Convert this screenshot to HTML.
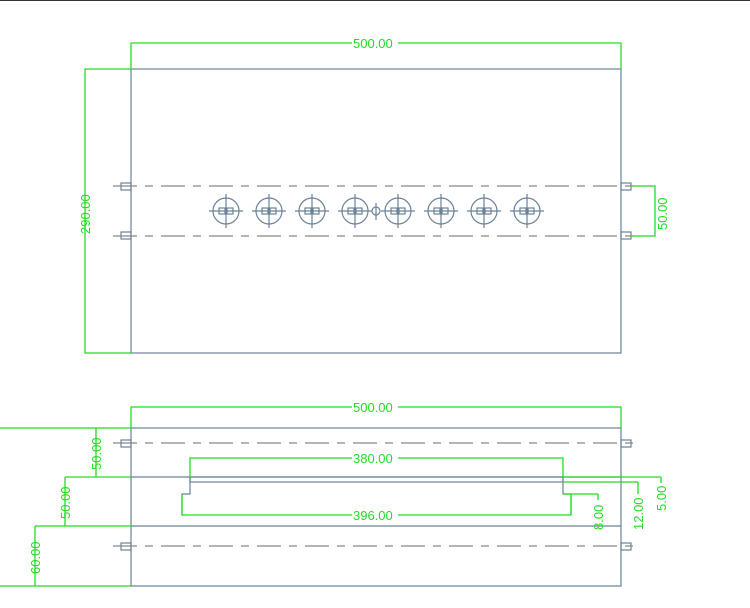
<!DOCTYPE html>
<html><head><style>body{margin:0;background:#fff}svg{display:block}text{font-family:"Liberation Sans",sans-serif;font-size:13px;fill:#22dd22}</style></head><body>
<svg width="750" height="608" viewBox="0 0 750 608" xmlns="http://www.w3.org/2000/svg">
<defs>
<g id="h"><circle cx="0" cy="211" r="13"/><line x1="-17" y1="211" x2="17" y2="211"/><line x1="0" y1="194" x2="0" y2="228"/><rect x="-7" y="208" width="6" height="6"/><rect x="1" y="208" width="6" height="6"/></g>
</defs>
<line x1="0" y1="0.5" x2="750" y2="0.5" stroke="#333" stroke-width="1"/>
<g fill="none" stroke="#6a8299" stroke-width="1.2">
<rect x="131" y="69" width="490" height="284"/>
<rect x="121" y="183" width="10" height="7"/><rect x="121" y="232" width="10" height="7"/>
<rect x="621" y="183" width="10" height="7"/><rect x="621" y="232" width="10" height="7"/>
<rect x="131" y="428" width="490" height="158"/>
<line x1="131" y1="477" x2="621" y2="477"/><line x1="131" y1="526" x2="621" y2="526"/>
<rect x="190" y="477" width="373" height="5"/>
<rect x="121" y="440" width="10" height="7"/><rect x="621" y="440" width="10" height="7"/>
<rect x="121" y="543" width="10" height="7"/><rect x="621" y="543" width="10" height="7"/>
<polyline points="190,477 190,494 182,494 182,515"/>
<polyline points="563,477 563,494 571,494 571,515"/>
</g>
<g stroke="#888" stroke-width="1.3" stroke-dasharray="24,8,8,8">
<line x1="113" y1="186" x2="640" y2="186"/><line x1="113" y1="236" x2="640" y2="236"/>
<line x1="113" y1="443" x2="640" y2="443"/><line x1="113" y1="546" x2="640" y2="546"/>
</g>
<g fill="none" stroke="#6a8299" stroke-width="1.2">
<use href="#h" x="226"/><use href="#h" x="269"/><use href="#h" x="312"/><use href="#h" x="355"/><use href="#h" x="398"/><use href="#h" x="441"/><use href="#h" x="484"/><use href="#h" x="527"/>
<circle cx="376" cy="211" r="4"/><line x1="376" y1="203" x2="376" y2="220"/>
</g>
<g fill="none" stroke="#22dd22" stroke-width="1.3">
<polyline points="131,69 131,43 621,43 621,69"/>
<polyline points="131,69 85,69 85,353 131,353"/>
<polyline points="631,186 655,186 655,236 631,236"/>
<polyline points="131,428 131,407 621,407 621,428"/>
<line x1="0" y1="428" x2="131" y2="428"/>
<line x1="96" y1="428" x2="96" y2="477"/><line x1="65" y1="477" x2="131" y2="477"/>
<line x1="65" y1="477" x2="65" y2="526"/><line x1="35" y1="526" x2="131" y2="526"/>
<line x1="35" y1="526" x2="35" y2="586"/><line x1="0" y1="586" x2="131" y2="586"/>
<polyline points="190,477 190,458 563,458 563,477"/>
<polyline points="182,494 182,515 571,515 571,494"/>
<line x1="563" y1="477" x2="661" y2="477"/><line x1="661" y1="477" x2="661" y2="483"/>
<line x1="563" y1="482" x2="638" y2="482"/><line x1="638" y1="482" x2="638" y2="494"/>
<line x1="563" y1="494" x2="598" y2="494"/><line x1="598" y1="494" x2="598" y2="500"/>
</g>
<g>
<rect x="352" y="36" width="46" height="14" fill="#fff"/><text x="353" y="48">500.00</text>
<rect x="352" y="400" width="46" height="14" fill="#fff"/><text x="353" y="412">500.00</text>
<rect x="352" y="451" width="46" height="14" fill="#fff"/><text x="353" y="463">380.00</text>
<rect x="352" y="508" width="46" height="14" fill="#fff"/><text x="353" y="520">396.00</text>
<text transform="translate(90,234) rotate(-90)">290.00</text>
<text transform="translate(667,230) rotate(-90)">50.00</text>
<text transform="translate(101,470) rotate(-90)">50.00</text>
<text transform="translate(70,519) rotate(-90)">50.00</text>
<text transform="translate(40,574) rotate(-90)">60.00</text>
<text transform="translate(603,530) rotate(-90)">8.00</text>
<text transform="translate(643,530) rotate(-90)">12.00</text>
<text transform="translate(666,511) rotate(-90)">5.00</text>
</g>
</svg>
</body></html>
